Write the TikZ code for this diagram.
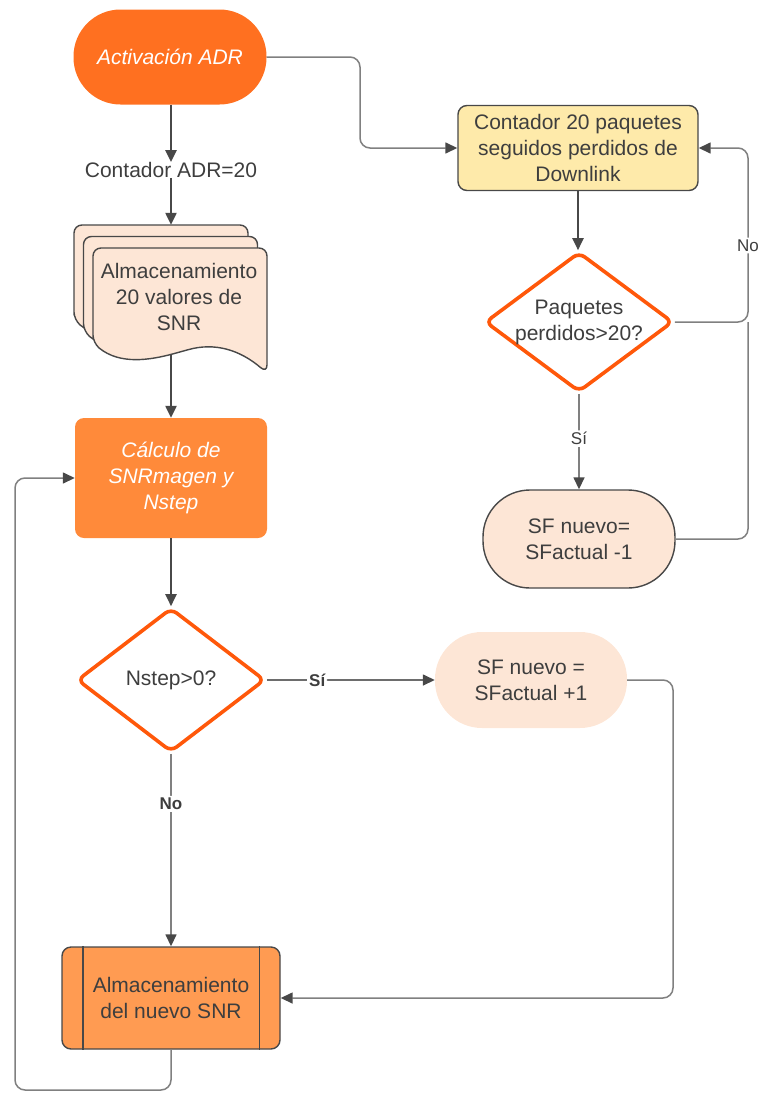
\documentclass[tikz,border=0pt]{standalone}
\usepackage{fontspec}
\setmainfont{Liberation Sans}
\usetikzlibrary{shapes.geometric,arrows.meta}

\definecolor{orA}{RGB}{255,112,32}
\definecolor{orB}{RGB}{255,138,58}
\definecolor{orC}{RGB}{255,155,82}
\definecolor{orLine}{RGB}{255,88,10}
\definecolor{peach}{RGB}{253,230,214}
\definecolor{sand}{RGB}{254,234,170}
\definecolor{edge}{RGB}{72,72,72}
\definecolor{wire}{RGB}{128,128,128}
\definecolor{txt}{RGB}{62,62,62}

\newcommand\mainsize{\fontsize{21}{26}\selectfont}

\tikzset{
  base/.style={align=center, font=\mainsize, text=txt, inner sep=0pt},
  stadium/.style={base, rounded corners=47pt, minimum width=193pt, minimum height=95pt},
  boxed/.style={base, rounded corners=9pt},
  decision/.style={diamond, draw=orLine, line width=3.6pt, rounded corners=7pt, fill=white, inner sep=0pt},
  sheet/.style={fill=peach, draw=edge, line width=1.4pt, rounded corners=8pt},
  tip/.style={-{Triangle[length=12pt,width=11pt,color=edge]}},
  flow/.style={tip, draw=wire, line width=1.5pt, rounded corners=10pt},
  strong/.style={tip, draw=edge, line width=2.3pt},
  lbl/.style={fill=white, text=txt, font=\fontsize{17}{20}\selectfont, inner sep=2pt},
  blbl/.style={lbl, font=\fontsize{17}{20}\selectfont\bfseries}
}

\begin{document}
\begin{tikzpicture}[x=1pt, y=-1pt]
\useasboundingbox (0,0) rectangle (759,1095);

% --- left column ---
\node[stadium, fill=orA, text=white, font=\mainsize\itshape] (act) at (170,57) {Activación ADR};
\node[base] (cnt) at (171,170) {Contador ADR=20};

% stacked document sheets
\foreach \dx/\dy in {-19/-23, -9.5/-11.5, 0/0} {
  \filldraw[sheet, shift={(\dx,\dy)}] (93,343) -- (93,248) -- (267,248) -- (267,373)
    .. controls (240,350) and (215,342) .. (180,352)
    .. controls (150,360) and (120,365) .. (93,343) -- cycle;
}
\node[minimum width=193pt, minimum height=148pt, inner sep=0pt] (doc) at (170.5,299) {};
\node[base] (doctext) at (179,297) {Almacenamiento\\20 valores de\\SNR};
\coordinate (docw) at (171,354);

\node[boxed, fill=orB, text=white, minimum width=192pt, minimum height=120pt,
      font=\mainsize\itshape] (calc) at (171,478) {Cálculo de\\SNRmagen y\\Nstep};

\node[decision, minimum width=188pt, minimum height=144pt] (d2) at (171,680) {};
\node[base] at (d2) {Nstep>0?};

\node[stadium, fill=peach, minimum width=192pt, minimum height=96pt] (sfp) at (531,680) {SF nuevo =\\SFactual +1};

\node[boxed, fill=orC, draw=edge, line width=1.4pt, minimum width=218pt, minimum height=102pt] (store) at (171,998) {Almacenamiento\\del nuevo SNR};
\draw[edge, line width=1.4pt] ([xshift=21.5pt]store.north west) -- ([xshift=21.5pt]store.south west)
                              ([xshift=-21.5pt]store.north east) -- ([xshift=-21.5pt]store.south east);

% --- right column ---
\node[boxed, fill=sand, draw=edge, line width=1.4pt, minimum width=240pt, minimum height=85pt] (cont) at (578,148)
  {Contador 20 paquetes\\seguidos perdidos de\\Downlink};
\node[decision, minimum width=188pt, minimum height=140pt] (d1) at (579,322) {};
\node[base] at (d1) {Paquetes\\perdidos>20?};
\node[stadium, fill=peach, draw=edge, line width=1.4pt, minimum width=192pt, minimum height=98pt] (sfm) at (579,539) {SF nuevo=\\SFactual -1};

% --- routing helpers ---
\coordinate (rt) at (360,0);
\coordinate (rx) at (748,0);
\coordinate (rr) at (673,0);
\coordinate (ll) at (15,1090);

% --- connectors ---
\draw[strong] (act.south -| cnt.north) -- (cnt.north);
\draw[strong] (cnt.south) -- (cnt.south |- doc.north);
\draw[strong] (docw) -- (calc.north);
\draw[strong] (calc.south) -- (d2.north);
\draw[flow, draw=edge!80] (d2.east) -- node[blbl, pos=0.3] {Sí} (sfp.west);
\draw[flow] (d2.south) -- node[blbl, pos=0.26] {No} (store.north);
\draw[flow] (sfp.east) -| (rr |- store.east) -- (store.east);
\draw[flow] (store.south) |- (ll) |- (calc.west);

\draw[flow] (act.east) -| (rt |- cont.west) -- (cont.west);
\draw[strong] (cont.south) -- (cont.south |- d1.north);
\draw[flow] (d1.east) -| node[lbl, pos=0.72] {No} (rx |- cont.east) -- (cont.east);
\draw[flow] (d1.south) -- node[lbl, pos=0.47] {Sí} (d1.south |- sfm.north);
\draw[draw=wire, line width=1.5pt, rounded corners=10pt] (sfm.east) -| (rx |- d1.east);
\end{tikzpicture}
\end{document}
